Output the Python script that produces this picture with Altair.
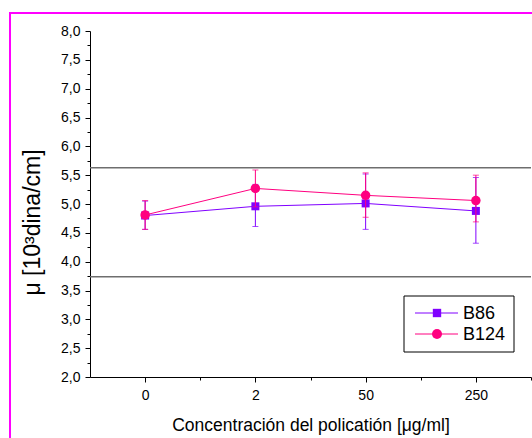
import json
import altair as alt
import pandas as pd

# ---- data ----
categories = ["0", "2", "50", "250"]
series_names = ["B86", "B124"]
series_colors = ["#8000FF", "#FF0080"]
series_shapes = ["square", "circle"]

b86_mean = [4.80, 4.96, 5.01, 4.88]
b86_low = [4.56, 4.61, 4.56, 4.32]
b86_high = [5.05, 5.34, 5.52, 5.46]

b124_mean = [4.81, 5.27, 5.15, 5.06]
b124_low = [4.56, 4.95, 4.77, 4.69]
b124_high = [5.06, 5.59, 5.54, 5.50]

ref_lines = [5.63, 3.74]

FONT = "Liberation Sans"

rows = []
for name, means, lows, highs in [
    ("B86", b86_mean, b86_low, b86_high),
    ("B124", b124_mean, b124_low, b124_high),
]:
    for i, cat in enumerate(categories):
        rows.append({"series": name, "pos": i, "cat": cat, "mean": means[i],
                     "low": lows[i], "high": highs[i]})
df = pd.DataFrame(rows)

caps = pd.concat([
    df.assign(bound=df["low"]),
    df.assign(bound=df["high"]),
], ignore_index=True)

xscale = alt.Scale(domain=[-0.5, 3.5], nice=False, zero=False)
yscale = alt.Scale(domain=[2.0, 8.0], nice=False, zero=False)
cscale = alt.Scale(domain=series_names, range=series_colors)

x_vals = [v / 2 for v in range(0, 8)]
y_vals = [2.0 + 0.25 * k for k in range(0, 25)]

x_axis = alt.Axis(
    values=x_vals,
    labelExpr="datum.value % 1 == 0 ? " + json.dumps(categories) + "[datum.value] : ''",
    tickSize={"condition": {"test": "datum.value % 1 != 0", "value": 3}, "value": 5},
    grid=False, domainColor="black", tickColor="black", labelColor="black",
    labelFont=FONT, labelFontSize=14, labelPadding=6, labelOverlap=False,
    labelFlush=False,
    title="Concentración del policatión [μg/ml]",
    titleFont=FONT, titleFontSize=17.5, titleFontWeight="normal", titleColor="black",
    titlePadding=14,
)
y_axis = alt.Axis(
    values=y_vals,
    labelExpr="datum.value % 0.5 == 0 ? replace(format(datum.value, '.1f'), '.', ',') : ''",
    tickSize={"condition": {"test": "datum.value % 0.5 != 0", "value": 3}, "value": 5},
    grid=False, domainColor="black", tickColor="black", labelColor="black",
    labelFont=FONT, labelFontSize=14, labelPadding=5, labelOverlap=False,
    labelFlush=False,
    title="μ [10³dina/cm]",
    titleFont=FONT, titleFontSize=23, titleFontWeight="normal", titleColor="black",
    titleAngle=270, titleAlign="center", titleBaseline="middle",
    titleX=-58, titleY=191,
)


def X(field):
    return alt.X(field, type="quantitative", scale=xscale, axis=x_axis)


def Y(field):
    return alt.Y(field, type="quantitative", scale=yscale, axis=y_axis)


refs = alt.Chart(pd.DataFrame({"v": ref_lines})).mark_rule(
    color="#6e6e6e", strokeWidth=1.5
).encode(y=Y("v"))

layers = [refs]
for name in series_names:
    sub = df[df["series"] == name]
    subcaps = caps[caps["series"] == name]
    shape = series_shapes[series_names.index(name)]
    color = alt.Color("series:N", scale=cscale, legend=None)
    err = alt.Chart(sub).mark_rule(strokeWidth=1).encode(
        x=X("pos"), y=Y("low"), y2="high:Q", color=color)
    cap = alt.Chart(subcaps).mark_tick(orient="horizontal", size=6, thickness=1).encode(
        x=X("pos"), y=Y("bound"), color=color)
    line = alt.Chart(sub).mark_line(strokeWidth=1).encode(
        x=X("pos"), y=Y("mean"), color=color)
    pts = alt.Chart(sub).mark_point(
        filled=True, opacity=1, shape=shape, size=64 if shape == "square" else 90
    ).encode(x=X("pos"), y=Y("mean"), color=color)
    layers += [err, cap, line, pts]

# ---- legend box (drawn by hand to reproduce the line-through-marker look) ----
one = pd.DataFrame({"a": [0]})
legend_box = alt.Chart(one).mark_rect(
    fill="white", stroke="black", strokeWidth=1
).encode(x=alt.value(314), x2=alt.value(424), y=alt.value(265), y2=alt.value(321))
layers.append(legend_box)

legend_rows_y = [282, 303]
for k, name in enumerate(series_names):
    ldf = pd.DataFrame({"series": [name]})
    ly = legend_rows_y[k]
    col = series_colors[k]
    shape = series_shapes[k]
    layers.append(alt.Chart(ldf).mark_rule(color=col, strokeWidth=1).encode(
        x=alt.value(325), x2=alt.value(368), y=alt.value(ly)))
    layers.append(alt.Chart(ldf).mark_point(
        filled=True, opacity=1, shape=shape, color=col,
        size=70 if shape == "square" else 100
    ).encode(x=alt.value(347), y=alt.value(ly)))
    layers.append(alt.Chart(ldf).mark_text(
        align="left", baseline="middle", font=FONT, fontSize=18, color="black"
    ).encode(x=alt.value(373), y=alt.value(ly + 1), text="series:N"))

# ---- magenta frame around the figure (partly outside the picture) ----
layers.append(alt.Chart(one).mark_rule(color="#FF00FF", strokeWidth=2).encode(
    x=alt.value(-80), y=alt.value(-18), y2=alt.value(420)))
layers.append(alt.Chart(one).mark_rule(color="#FF00FF", strokeWidth=2).encode(
    x=alt.value(-81), x2=alt.value(460), y=alt.value(-18)))

chart = alt.layer(*layers).properties(
    width=441,
    height=346,
    padding={"left": 90, "top": 31, "right": 1, "bottom": 61},
    autosize=alt.AutoSizeParams(type="none"),
    background="white",
).configure_view(strokeWidth=0)

chart.save("out.html", embed_options={"renderer": "svg", "actions": False})
